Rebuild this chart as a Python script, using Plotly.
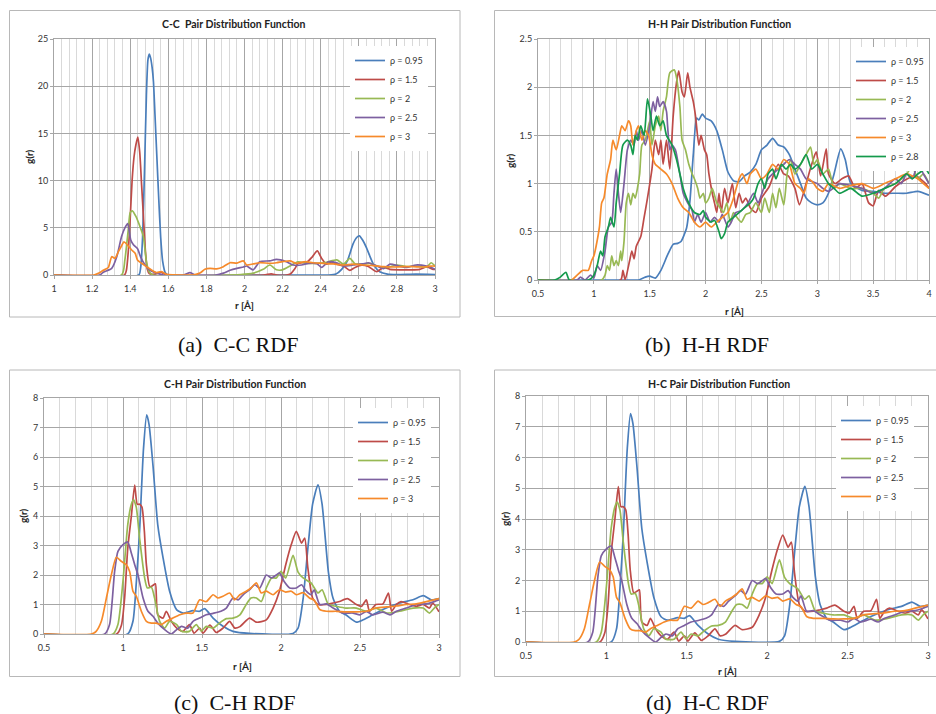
import plotly.graph_objects as go

# ---------------- data ----------------
legend_names = ["ρ = 0.95", "ρ = 1.5", "ρ = 2", "ρ = 2.5", "ρ = 3"]
legend_names_hh = ["ρ = 0.95", "ρ = 1.5", "ρ = 2", "ρ = 2.5", "ρ = 3", "ρ = 2.8"]

# (a) C-C
cc_r_095 = [1.0, 1.445, 1.455, 1.465, 1.475, 1.485, 1.493, 1.5, 1.507, 1.515, 1.522, 1.53, 1.54, 1.55, 1.56, 1.57, 1.585, 1.6,
            2.0, 2.44, 2.48, 2.51, 2.54, 2.57, 2.59, 2.603, 2.62, 2.64, 2.66, 2.68, 2.71, 2.75, 2.8, 2.9, 3.0]
cc_g_095 = [0, 0, 0.8, 4, 11, 19, 22.8, 23.4, 23.0, 22.0, 20.5, 17, 12.5, 8, 4, 1.5, 0.2, 0,
            0, 0, 0.1, 0.6, 1.5, 3.3, 4.0, 4.15, 3.7, 2.9, 1.9, 1.0, 0.35, 0.1, 0.05, 0.1, 0.05]
cc_r_15 = [1.0, 1.37, 1.38, 1.39, 1.40, 1.41, 1.42, 1.43, 1.44, 1.45, 1.46, 1.47, 1.48, 1.49, 1.50, 1.53, 1.56, 1.58, 1.6,
           2.1, 2.14, 2.17, 2.22, 2.24, 2.265, 2.28, 2.3, 2.33, 2.355, 2.382, 2.405, 2.43, 2.458, 2.484, 2.52, 2.553, 2.58,
           2.615, 2.65, 2.694, 2.729, 2.764, 2.816, 2.869, 2.92, 2.956, 2.99, 3.0]
cc_g_15 = [0, 0, 0.5, 2.5, 6, 10, 12.5, 13.8, 14.6, 13, 9.5, 6, 2.5, 0.6, 0.15, 0.1, 0.3, 0.1, 0,
           0, 0.12, 0, 0, 0.1, 0.7, 1.2, 1.3, 1.4, 1.9, 2.55, 1.75, 1.15, 1.4, 1.15, 0.95, 0.5, 0.8,
           1.05, 0.9, 0.35, 0.8, 0.6, 0.55, 0.55, 0.6, 0.85, 0.6, 0.6]
cc_r_2 = [1.0, 1.355, 1.372, 1.39, 1.40, 1.411, 1.43, 1.45, 1.469, 1.486, 1.5, 1.52, 1.98, 2.046, 2.098, 2.133, 2.168, 2.2,
          2.239, 2.28, 2.327, 2.38, 2.43, 2.484, 2.52, 2.553, 2.58, 2.62, 2.66, 2.694, 2.746, 2.8, 2.85, 2.9, 2.956, 2.98, 3.0]
cc_g_2 = [0, 0, 1.6, 4.8, 6.6, 6.8, 6.2, 5.2, 4.1, 1.3, 0.35, 0, 0.05, 0.2, 0.6, 1.06, 0.55, 0.55,
          0.95, 1.4, 1.24, 1.24, 1.35, 1.6, 1.17, 1.76, 1.2, 1.15, 1.24, 0.95, 0.8, 1.06, 0.9, 0.95, 0.85, 1.3, 0.95]
cc_r_25 = [1.0, 1.24, 1.259, 1.303, 1.329, 1.355, 1.372, 1.387, 1.403, 1.417, 1.438, 1.455, 1.478, 1.504, 1.539, 1.574,
           1.68, 1.714, 1.74, 1.85, 1.889, 1.924, 1.96, 1.994, 2.011, 2.046, 2.08, 2.133, 2.168, 2.22, 2.255, 2.3, 2.335,
           2.38, 2.405, 2.44, 2.484, 2.52, 2.57, 2.62, 2.65, 2.694, 2.73, 2.764, 2.81, 2.85, 2.9, 2.956, 2.98, 3.0]
cc_g_25 = [0, 0, 0.3, 0.7, 1.9, 4.1, 5.0, 5.45, 3.7, 3.2, 2.8, 1.9, 1.05, 0.5, 0.2, 0,
           0, 0.25, 0, 0, 0.2, 0.5, 0.7, 0.85, 0.95, 0.55, 1.4, 1.5, 1.65, 1.4, 1.06, 1.06, 1.24,
           1.2, 0.8, 1.4, 1.3, 0.95, 1.06, 1.17, 1.3, 0.95, 0.67, 1.15, 0.95, 0.8, 1.06, 0.95, 0.8, 0.6]
cc_r_3 = [1.0, 1.21, 1.233, 1.259, 1.285, 1.303, 1.32, 1.338, 1.355, 1.367, 1.385, 1.408, 1.426, 1.438, 1.46, 1.486, 1.512,
          1.538, 1.565, 1.59, 1.65, 1.73, 1.766, 1.792, 1.819, 1.854, 1.889, 1.924, 1.96, 1.994, 2.011, 2.046, 2.08, 2.133,
          2.168, 2.2, 2.239, 2.27, 2.32, 2.36, 2.413, 2.466, 2.52, 2.57, 2.62, 2.676, 2.73, 2.78, 2.833, 2.886, 2.94, 2.98, 3.0]
cc_g_3 = [0, 0, 0.18, 0.5, 0.8, 1.94, 1.77, 2.47, 3.1, 3.5, 3.2, 2.65, 2.3, 1.6, 1.24, 0.88, 0.53,
          0.25, 0.35, 0.07, 0, 0, 0.2, 0.6, 0.7, 0.65, 0.88, 1.3, 1.25, 1.5, 1.06, 1.17, 1.3, 1.24,
          1.3, 1.41, 1.5, 1.24, 1.41, 1.3, 1.24, 1.17, 1.06, 1.15, 1.06, 1.0, 0.88, 0.85, 0.88, 0.88, 0.85, 0.95, 0.95]

# (b) H-H
hh_r_095 = [0.5, 1.3, 1.4, 1.46, 1.5, 1.55, 1.6, 1.66, 1.71, 1.75, 1.78, 1.83, 1.86, 1.89, 1.92, 1.94, 1.97, 2.0, 2.05,
            2.1, 2.15, 2.2, 2.25, 2.3, 2.35, 2.4, 2.45, 2.5, 2.55, 2.6, 2.65, 2.7, 2.75, 2.8, 2.85, 2.9, 2.95, 3.0, 3.05,
            3.1, 3.15, 3.21, 3.25, 3.3, 3.4, 3.5, 3.6, 3.7, 3.8, 3.9, 4.0]
hh_g_095 = [0, 0, 0, 0.03, 0.04, 0.02, 0.1, 0.26, 0.37, 0.38, 0.4, 0.54, 0.82, 1.3, 1.68, 1.66, 1.72, 1.68, 1.65,
            1.55, 1.35, 1.12, 1.03, 1.02, 1.08, 1.12, 1.2, 1.35, 1.4, 1.47, 1.4, 1.38, 1.3, 1.15, 1.0, 0.85, 0.8, 0.78, 0.8,
            0.9, 1.1, 1.36, 1.25, 1.0, 0.93, 0.92, 0.9, 0.9, 0.9, 0.92, 0.88]
hh_r_15 = [0.5, 1.24, 1.26, 1.28, 1.32, 1.34, 1.36, 1.38, 1.42, 1.45, 1.48, 1.52, 1.55, 1.58, 1.6, 1.62, 1.65, 1.68, 1.71,
           1.74, 1.76, 1.79, 1.81, 1.84, 1.86, 1.89, 1.91, 1.94, 1.96, 1.99, 2.01, 2.03, 2.06, 2.08, 2.1, 2.12, 2.14, 2.17,
           2.2, 2.22, 2.24, 2.27, 2.3, 2.33, 2.36, 2.4, 2.45, 2.5, 2.57, 2.65, 2.7, 2.74, 2.8, 2.84, 2.9, 2.95, 2.99, 3.03,
           3.08, 3.1, 3.16, 3.22, 3.28, 3.34, 3.4, 3.46, 3.5, 3.55, 3.61, 3.7, 3.79, 3.88, 3.97, 4.0]
hh_g_15 = [0, 0, 0.1, 0, 0.2, 0.3, 0.22, 0.35, 0.45, 0.65, 0.85, 1.15, 1.45, 1.3, 1.45, 1.2, 1.45, 1.15, 1.7,
           2.05, 2.17, 1.95, 1.9, 2.15, 2.0, 1.85, 1.7, 1.4, 1.5, 1.35, 1.3, 1.1, 0.9, 0.8, 0.7, 0.9, 0.7, 0.95,
           0.8, 0.9, 1.0, 0.75, 0.9, 0.8, 0.85, 0.75, 0.7, 0.85, 0.97, 1.2, 1.1, 1.08, 0.95, 0.78, 1.0, 1.2, 1.33, 1.08,
           1.36, 1.1, 1.0, 1.05, 1.08, 0.95, 1.0, 0.8, 0.77, 0.93, 0.87, 0.97, 1.04, 1.08, 1.0, 0.95]
hh_r_2 = [0.5, 1.07, 1.1, 1.12, 1.14, 1.16, 1.18, 1.2, 1.22, 1.24, 1.25, 1.27, 1.29, 1.31, 1.33, 1.35, 1.37, 1.39, 1.41,
          1.43, 1.46, 1.48, 1.5, 1.52, 1.55, 1.58, 1.6, 1.62, 1.65, 1.68, 1.72, 1.74, 1.77, 1.79, 1.82, 1.85, 1.88, 1.9,
          1.93, 1.95, 1.98, 2.0, 2.03, 2.06, 2.1, 2.13, 2.16, 2.19, 2.22, 2.25, 2.28, 2.32, 2.36, 2.4, 2.45, 2.5, 2.53,
          2.57, 2.6, 2.63, 2.66, 2.7, 2.73, 2.76, 2.8, 2.85, 2.9, 2.94, 2.97, 3.0, 3.05, 3.1, 3.15, 3.2, 3.3, 3.4, 3.5,
          3.55, 3.6, 3.7, 3.8, 3.85, 3.9, 3.95, 4.0]
hh_g_2 = [0, 0, 0.05, 0.15, 0.1, 0.25, 0.15, 0.2, 0.15, 0.3, 0.2, 0.4, 0.8, 0.9, 0.78, 0.9, 0.85, 0.95, 1.1,
          1.4, 1.45, 1.55, 1.65, 1.4, 1.6, 1.7, 1.55, 1.75, 1.9, 2.15, 2.18, 2.1, 1.8, 1.45, 1.35, 1.2, 1.1, 1.05,
          0.95, 0.85, 0.9, 0.8, 0.85, 0.95, 0.8, 0.75, 0.7, 0.8, 0.6, 0.7, 0.65, 0.6, 0.68, 0.7, 0.8, 0.7, 0.85,
          0.7, 0.9, 0.75, 0.95, 0.78, 1.1, 1.25, 1.1, 1.2, 1.3, 1.38, 1.2, 1.25, 1.1, 1.15, 0.95, 1.0, 0.95, 0.95, 0.9,
          0.85, 0.95, 1.0, 1.1, 1.18, 1.05, 1.1, 1.0]
hh_r_25 = [0.5, 0.85, 0.88, 0.92, 0.97, 1.0, 1.03, 1.06, 1.1, 1.13, 1.16, 1.18, 1.2, 1.22, 1.24, 1.27, 1.3, 1.33, 1.36,
           1.38, 1.4, 1.43, 1.46, 1.5, 1.53, 1.55, 1.57, 1.59, 1.62, 1.65, 1.66, 1.68, 1.7, 1.73, 1.77, 1.8, 1.84, 1.88,
           1.9, 1.93, 1.96, 2.0, 2.04, 2.08, 2.12, 2.15, 2.2, 2.23, 2.27, 2.32, 2.38, 2.43, 2.47, 2.52, 2.56, 2.6, 2.65,
           2.7, 2.75, 2.8, 2.85, 2.9, 3.0, 3.05, 3.1, 3.2, 3.3, 3.4, 3.5, 3.6, 3.7, 3.75, 3.8, 3.85, 3.9, 3.95, 4.0]
hh_g_25 = [0, 0, 0.03, 0, 0.05, 0.02, 0.15, 0.1, 0.3, 0.55, 0.6, 0.9, 1.15, 0.9, 0.7, 1.0, 1.35, 1.45, 1.4,
           1.55, 1.45, 1.55, 1.4, 1.6, 1.85, 1.75, 1.9, 1.8, 1.85, 1.75, 1.6, 1.35, 1.4, 1.35, 1.1, 0.9, 0.8, 0.72,
           0.6, 0.68, 0.6, 0.7, 0.6, 0.65, 0.6, 0.68, 0.55, 0.6, 0.7, 0.72, 0.8, 0.9, 0.8, 0.95, 1.05, 1.1, 1.15,
           1.2, 1.25, 1.2, 1.15, 1.05, 1.0, 0.95, 0.92, 1.0, 0.98, 0.95, 0.9, 0.95, 1.05, 1.0, 1.1, 1.05, 1.2, 1.1, 1.0]
hh_r_3 = [0.5, 0.8, 0.85, 0.9, 0.95, 0.98, 1.0, 1.02, 1.05, 1.07, 1.09, 1.12, 1.15, 1.17, 1.2, 1.23, 1.25, 1.28, 1.31,
          1.33, 1.35, 1.38, 1.4, 1.43, 1.46, 1.49, 1.52, 1.55, 1.6, 1.65, 1.7, 1.75, 1.8, 1.85, 1.9, 1.95, 2.0, 2.05,
          2.1, 2.15, 2.2, 2.25, 2.3, 2.33, 2.37, 2.4, 2.45, 2.5, 2.55, 2.6, 2.65, 2.7, 2.75, 2.8, 2.85, 2.88, 2.92,
          2.97, 3.0, 3.05, 3.1, 3.2, 3.3, 3.4, 3.5, 3.55, 3.6, 3.7, 3.8, 3.9, 3.95, 4.0]
hh_g_3 = [0, 0, 0.05, 0.1, 0.1, 0.2, 0.25, 0.35, 0.55, 0.8, 0.85, 1.1, 1.25, 1.45, 1.35, 1.5, 1.6, 1.55, 1.65,
          1.6, 1.4, 1.55, 1.6, 1.45, 1.55, 1.5, 1.3, 1.2, 1.15, 1.1, 1.0, 0.85, 0.75, 0.7, 0.6, 0.55, 0.6, 0.55,
          0.6, 0.65, 0.7, 0.85, 1.05, 1.1, 1.0, 1.1, 1.15, 1.05, 1.1, 1.2, 1.15, 1.25, 1.2, 1.0, 0.95, 0.9, 1.05,
          1.0, 0.95, 0.92, 1.0, 0.95, 0.98, 1.0, 0.95, 0.97, 1.0, 1.05, 1.1, 1.05, 1.0, 0.95]
hh_r_28 = [0.5, 0.65, 0.7, 0.75, 0.78, 0.95, 0.98, 1.0, 1.03, 1.06, 1.08, 1.1, 1.13, 1.15, 1.18, 1.2, 1.23, 1.26, 1.3,
           1.33, 1.35, 1.37, 1.39, 1.42, 1.45, 1.48, 1.51, 1.53, 1.56, 1.59, 1.62, 1.65, 1.7, 1.74, 1.78, 1.8, 1.83, 1.87,
           1.9, 1.95, 1.98, 2.0, 2.05, 2.08, 2.12, 2.14, 2.17, 2.2, 2.25, 2.3, 2.35, 2.4, 2.43, 2.47, 2.5, 2.53, 2.56,
           2.6, 2.63, 2.68, 2.72, 2.76, 2.8, 2.85, 2.9, 2.95, 3.0, 3.05, 3.1, 3.15, 3.2, 3.3, 3.4, 3.5, 3.6, 3.7, 3.8,
           3.85, 3.9, 3.97, 4.0]
hh_g_28 = [0, 0, 0.03, 0.08, 0, 0, 0.02, 0.05, 0.15, 0.3, 0.25, 0.45, 0.55, 0.65, 0.55, 0.8, 1.1, 1.4, 1.45,
           1.4, 1.3, 1.5, 1.45, 1.6, 1.5, 1.88, 1.7, 1.55, 1.7, 1.6, 1.65, 1.5, 1.4, 1.25, 1.05, 0.95, 0.85, 0.75,
           0.7, 0.68, 0.72, 0.65, 0.6, 0.62, 0.5, 0.43, 0.48, 0.6, 0.65, 0.7, 0.75, 0.8, 0.85, 1.0, 1.05, 0.95, 1.1,
           1.15, 1.05, 1.2, 1.15, 1.2, 1.15, 1.2, 1.3, 1.15, 1.2, 1.1, 1.0, 0.95, 0.9, 0.95, 0.87, 0.9, 0.95, 1.0, 1.1,
           1.05, 1.1, 1.15, 1.1]

# (c) C-H and (d) H-C
ch_r_095 = [0.5, 1.03, 1.063, 1.085, 1.105, 1.13, 1.15, 1.165, 1.19, 1.22, 1.253, 1.295, 1.34, 1.38, 1.443, 1.485, 1.517,
            1.57, 1.633, 1.696, 1.8, 2.076, 2.108, 2.14, 2.17, 2.2, 2.234, 2.26, 2.3, 2.33, 2.37, 2.41, 2.477, 2.52, 2.58,
            2.645, 2.75, 2.835, 2.9, 2.95, 3.0]
ch_g_095 = [0, 0, 0.43, 1.8, 3.5, 6.3, 7.43, 7.1, 5.7, 3.7, 2.6, 1.45, 0.82, 0.71, 0.79, 0.77, 0.86,
            0.54, 0.26, 0.09, 0.02, 0.02, 0.2, 1.2, 2.9, 4.4, 5.06, 4.4, 2.1, 1.2, 0.77, 0.65, 0.4, 0.48, 0.65,
            0.83, 1.05, 1.16, 1.3, 1.16, 1.2]
ch_r_15 = [0.5, 0.96, 0.99, 1.01, 1.03, 1.053, 1.074, 1.09, 1.105, 1.12, 1.135, 1.148, 1.17, 1.19, 1.205, 1.22, 1.253,
           1.274, 1.306, 1.34, 1.38, 1.42, 1.45, 1.485, 1.506, 1.55, 1.59, 1.633, 1.675, 1.707, 1.74, 1.8, 1.844, 1.907,
           1.95, 1.99, 2.03, 2.065, 2.097, 2.13, 2.15, 2.17, 2.2, 2.234, 2.287, 2.33, 2.37, 2.42, 2.477, 2.51, 2.54, 2.56,
           2.6, 2.645, 2.68, 2.7, 2.73, 2.76, 2.814, 2.857, 2.9, 2.94, 2.96, 3.0]
ch_g_15 = [0, 0, 0.3, 1.2, 2.9, 4.0, 5.05, 4.4, 4.4, 4.3, 3.5, 2.35, 1.6, 1.65, 1.7, 0.65, 0.54,
           0.77, 0.43, 0.2, 0.09, 0.32, 0.03, 0.2, 0.03, 0.3, 0.05, 0.2, 0.43, 0.2, 0.25, 0.54, 0.4, 0.48,
           0.88, 1.45, 2.35, 3.03, 3.48, 3.08, 3.25, 2.24, 1.22, 1.0, 1.0, 1.05, 1.1, 1.2, 1.0, 0.94, 1.16, 0.77,
           1.0, 1.02, 1.39, 0.77, 1.0, 1.1, 1.0, 0.94, 1.0, 0.88, 1.05, 0.75]
ch_r_2 = [0.5, 0.937, 0.968, 1.0, 1.03, 1.053, 1.067, 1.084, 1.105, 1.137, 1.154, 1.18, 1.2, 1.232, 1.264, 1.295, 1.34,
          1.37, 1.42, 1.464, 1.496, 1.527, 1.57, 1.61, 1.654, 1.696, 1.74, 1.78, 1.81, 1.844, 1.875, 1.907, 1.94, 1.97,
          2.0, 2.03, 2.076, 2.108, 2.14, 2.19, 2.234, 2.26, 2.3, 2.35, 2.41, 2.477, 2.54, 2.6, 2.67, 2.75, 2.835, 2.9,
          2.94, 2.97, 3.0]
ch_g_2 = [0, 0, 0.32, 1.8, 3.7, 4.4, 4.55, 4.3, 3.25, 1.9, 1.56, 1.58, 1.22, 0.43, 0.2, 0.43, 0.32,
          0.09, 0.09, 0.32, 0.1, 0.26, 0.2, 0.37, 0.52, 0.54, 0.65, 1.0, 1.22, 1.22, 1.1, 1.56, 1.9, 1.9,
          2.12, 1.9, 2.67, 2.1, 1.9, 1.73, 1.39, 1.5, 1.0, 0.94, 0.88, 0.88, 0.77, 0.88, 0.71, 0.77, 0.88, 0.88,
          0.71, 0.88, 1.0]
ch_r_25 = [0.5, 0.884, 0.915, 0.947, 0.968, 1.0, 1.03, 1.05, 1.074, 1.095, 1.127, 1.158, 1.19, 1.22, 1.264, 1.306, 1.34,
           1.37, 1.41, 1.443, 1.485, 1.527, 1.57, 1.62, 1.654, 1.696, 1.73, 1.76, 1.8, 1.834, 1.865, 1.907, 1.94, 1.97,
           1.99, 2.02, 2.055, 2.097, 2.13, 2.16, 2.19, 2.21, 2.245, 2.287, 2.33, 2.39, 2.456, 2.5, 2.54, 2.58, 2.645,
           2.69, 2.73, 2.793, 2.857, 2.92, 2.96, 3.0]
ch_g_25 = [0, 0, 0.32, 2.12, 2.8, 3.03, 3.12, 2.8, 2.35, 2.0, 1.22, 0.77, 0.6, 0.37, 0.15, 0.0, 0.15,
           0.26, 0.2, 0.43, 0.54, 0.65, 0.7, 0.77, 0.88, 1.22, 1.16, 1.33, 1.5, 1.67, 1.56, 2.0, 1.9, 2.0,
           2.07, 1.78, 1.56, 1.56, 1.67, 1.45, 1.33, 1.5, 1.0, 1.02, 0.88, 0.71, 0.71, 0.65, 0.77, 0.65, 0.74,
           0.65, 0.77, 0.88, 1.0, 1.02, 1.08, 1.16]
ch_r_3 = [0.5, 0.8, 0.83, 0.863, 0.895, 0.926, 0.958, 0.99, 1.02, 1.042, 1.063, 1.084, 1.116, 1.148, 1.18, 1.21, 1.243,
          1.274, 1.316, 1.36, 1.4, 1.443, 1.485, 1.527, 1.57, 1.6, 1.633, 1.675, 1.707, 1.74, 1.78, 1.81, 1.844, 1.875,
          1.907, 1.95, 1.99, 2.03, 2.065, 2.097, 2.14, 2.18, 2.21, 2.245, 2.287, 2.35, 2.41, 2.477, 2.54, 2.6, 2.67,
          2.73, 2.793, 2.857, 2.92, 2.96, 3.0]
ch_g_3 = [0, 0, 0.09, 0.43, 1.22, 2.0, 2.6, 2.46, 2.35, 2.12, 1.45, 1.28, 0.77, 0.43, 0.37, 0.37, 0.32,
          0.43, 0.54, 0.65, 0.71, 0.71, 1.16, 1.1, 1.33, 1.22, 1.28, 1.39, 1.16, 1.33, 1.45, 1.56, 1.73, 1.39,
          1.45, 1.33, 1.5, 1.42, 1.45, 1.33, 1.4, 1.22, 1.15, 0.83, 0.77, 0.77, 0.75, 0.75, 0.77, 0.88, 0.92,
          0.95, 1.0, 1.02, 1.1, 1.15, 1.2]

cc_series = [(cc_r_095, cc_g_095), (cc_r_15, cc_g_15), (cc_r_2, cc_g_2), (cc_r_25, cc_g_25), (cc_r_3, cc_g_3)]
hh_series = [(hh_r_095, hh_g_095), (hh_r_15, hh_g_15), (hh_r_2, hh_g_2), (hh_r_25, hh_g_25), (hh_r_3, hh_g_3),
             (hh_r_28, hh_g_28)]
ch_series = [(ch_r_095, ch_g_095), (ch_r_15, ch_g_15), (ch_r_2, ch_g_2), (ch_r_25, ch_g_25), (ch_r_3, ch_g_3)]

panel_titles = ["C-C  Pair Distribution Function", "H-H Pair Distribution Function",
                "C-H Pair Distribution Function", "H-C Pair Distribution Function"]
captions = ["(a)  C-C RDF", "(b)  H-H RDF", "(c)  C-H RDF", "(d)  H-C RDF"]

# ---------------- styling ----------------
W, H = 936, 714
COLORS = ["#4A7EBB", "#BE4B48", "#98B954", "#7D60A0", "#F68A2B", "#149A4C"]
MAJOR = "#A6A6A6"
MINOR = "#D9D9D9"
FONT = "Lato"
TXT = "#333333"


def fx(p):
    return p / W


def fy(p):
    return 1 - p / H


fig = go.Figure()

panels = [
    # series, names, axis suffix, legend id, x range, dtick, minor, y range, ydtick, domain px (x0,x1,ytop,ybot)
    (cc_series, legend_names, "", "legend", [1, 3], 0.2, 0.04, [0, 25], 5, (54, 435, 39, 275)),
    (hh_series, legend_names_hh, "2", "legend2", [0.5, 4], 0.5, 0.1, [0, 2.5], 0.5, (538, 929, 39, 280)),
    (ch_series, legend_names, "3", "legend3", [0.5, 3], 0.5, 0.1, [0, 8], 1, (44, 439, 398, 634)),
    (ch_series, legend_names, "4", "legend4", [0.5, 3], 0.5, 0.1, [0, 8], 1, (526, 928, 396, 642)),
]

layout_axes = {}
for series, names, suf, leg, xr, xdt, xmin, yr, ydt, dom in panels:
    for i, (r, g) in enumerate(series):
        fig.add_trace(go.Scatter(
            x=r, y=g, mode="lines", name=names[i],
            line=dict(color=COLORS[i], width=1.7, shape="spline", smoothing=0.6),
            xaxis="x" + suf, yaxis="y" + suf, legend=leg, showlegend=True,
        ))
    x0, x1, yt, yb = dom
    common = dict(showgrid=True, gridcolor=MAJOR, gridwidth=1, showline=True, linecolor=MAJOR,
                  linewidth=1, mirror=True, ticks="outside", ticklen=3, tickcolor=MAJOR,
                  tickfont=dict(family=FONT, size=9, color=TXT), zeroline=False, automargin=False)
    layout_axes["xaxis" + suf] = dict(common, range=xr, dtick=xdt, tick0=xr[0], domain=[fx(x0), fx(x1)],
                                     anchor="y" + suf, ticklabelstandoff=2,
                                     minor=dict(dtick=xmin, tick0=xr[0], showgrid=True, gridcolor=MINOR,
                                                gridwidth=1, ticks=""))
    layout_axes["yaxis" + suf] = dict(common, range=yr, dtick=ydt, domain=[fy(yb), fy(yt)],
                                     anchor="x" + suf)

leg_font = dict(family=FONT, size=9, color=TXT)
leg_common = dict(xanchor="right", yanchor="top", bgcolor="white", borderwidth=0, font=leg_font,
                  itemwidth=30, tracegroupgap=0)

annotations = []
# panel titles
for t, (x, y) in zip(panel_titles, [(234, 24), (719, 24), (235, 384), (719, 384)]):
    annotations.append(dict(text="<b>" + t + "</b>", x=fx(x), y=fy(y), xref="paper", yref="paper",
                            showarrow=False, xanchor="center", yanchor="middle",
                            font=dict(family=FONT, size=10.5, color="#222222")))
# y titles
for (x, y) in [(29, 157), (510, 160), (23, 516), (505, 519)]:
    annotations.append(dict(text="<b>g(r)</b>", x=fx(x), y=fy(y), xref="paper", yref="paper",
                            showarrow=False, textangle=-90, xanchor="center", yanchor="middle",
                            font=dict(family=FONT, size=10, color="#222222")))
# x titles
for (x, y) in [(244, 305), (734, 311), (242, 666), (727, 671)]:
    annotations.append(dict(text="<b>r [Å]</b>", x=fx(x), y=fy(y), xref="paper", yref="paper",
                            showarrow=False, xanchor="center", yanchor="middle",
                            font=dict(family=FONT, size=10, color="#222222")))
# captions
for c, (x, y) in zip(captions, [(238, 344), (707, 344), (235, 702), (707, 702)]):
    annotations.append(dict(text=c, x=fx(x), y=fy(y), xref="paper", yref="paper",
                            showarrow=False, xanchor="center", yanchor="middle",
                            font=dict(family="Liberation Serif", size=22, color="#111111")))

shapes = []
for (x0, y0, x1, y1) in [(9.5, 10.5, 460, 317), (494.5, 10.5, 944, 316.5),
                         (9.5, 370, 460, 676.5), (494.5, 370, 944, 676.5)]:
    shapes.append(dict(type="rect", xref="paper", yref="paper", x0=fx(x0), x1=fx(x1), y0=fy(y1), y1=fy(y0),
                       line=dict(color="#B8B8B8", width=1), fillcolor="rgba(0,0,0,0)", layer="below"))

fig.update_layout(
    width=W, height=H, margin=dict(l=0, r=0, t=0, b=0),
    paper_bgcolor="white", plot_bgcolor="white",
    annotations=annotations, shapes=shapes,
    legend=dict(leg_common, x=fx(428), y=fy(46)),
    legend2=dict(leg_common, x=fx(929), y=fy(47)),
    legend3=dict(leg_common, x=fx(431), y=fy(408)),
    legend4=dict(leg_common, x=fx(914), y=fy(406)),
    **layout_axes,
)

fig.write_html(
    "out.html",
    config={"displayModeBar": False},
    post_script="document.body.style.margin='0';document.body.style.overflow='hidden';",
)
